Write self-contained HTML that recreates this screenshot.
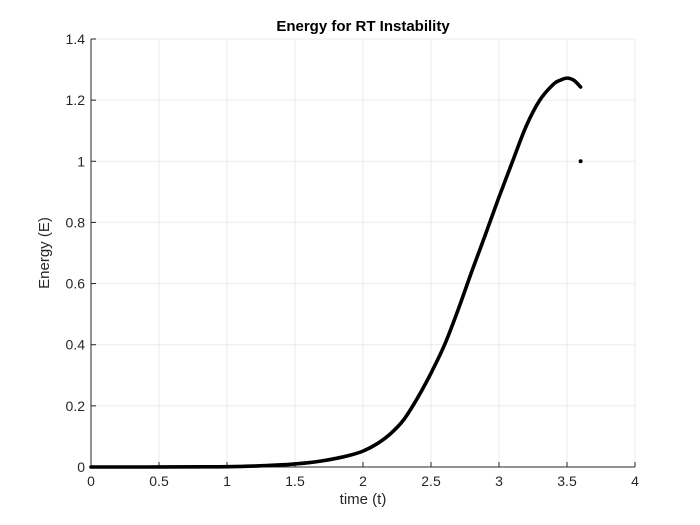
<!DOCTYPE html>
<html><head><meta charset="utf-8"><style>
body{margin:0;background:#fff;}
svg{display:block;font-family:"Liberation Sans",sans-serif;}
</style></head><body>
<svg id="chart" width="700" height="525">
<rect x="0" y="0" width="700" height="525" fill="#fff"/>
<rect x="91" y="39" width="544" height="428" fill="#fff" stroke="none"/>
<g id="grid"></g>
<g id="axes"></g>
<g id="series"></g>
<text x="363" y="31" text-anchor="middle" font-size="15" font-weight="bold" fill="#000">Energy for RT Instability</text>
<text x="363" y="504" text-anchor="middle" font-size="15" fill="#262626">time (t)</text>
<text x="0" y="0" transform="translate(49,253) rotate(-90)" text-anchor="middle" font-size="15" fill="#262626">Energy (E)</text>
</svg>
<script>
const xTicks=[0,0.5,1,1.5,2,2.5,3,3.5,4];
const xTickLabels=["0","0.5","1","1.5","2","2.5","3","3.5","4"];
const yTicks=[0,0.2,0.4,0.6,0.8,1,1.2,1.4];
const yTickLabels=["0","0.2","0.4","0.6","0.8","1","1.2","1.4"];
const times=[0,0.4,0.8,1.0,1.2,1.4,1.5,1.6,1.7,1.8,1.9,2.0,2.1,2.2,2.3,2.4,2.5,2.6,2.7,2.8,2.9,3.0,3.1,3.2,3.3,3.4,3.45,3.5,3.55,3.6];
const energy=[0,0,0.0005,0.001,0.003,0.007,0.01,0.014,0.02,0.028,0.038,0.052,0.075,0.108,0.155,0.225,0.307,0.40,0.515,0.64,0.76,0.883,1.0,1.115,1.2,1.252,1.265,1.272,1.265,1.243];
const outlierT=[3.6];
const outlierE=[1.0];
const X0=91,X1=635,Y0=467,Y1=39;
const sx=v=>X0+(v-0)/(4-0)*(X1-X0);
const sy=v=>Y0-(v-0)/(1.4-0)*(Y0-Y1);
const NS="http://www.w3.org/2000/svg";
function mk(t,a,p){const e=document.createElementNS(NS,t);for(const k in a)e.setAttribute(k,a[k]);p.appendChild(e);return e;}
const grid=document.getElementById('grid'),axes=document.getElementById('axes'),series=document.getElementById('series');
xTicks.forEach((v,i)=>{
 const g=mk('line',{x1:sx(v),x2:sx(v),y1:Y0,y2:Y1,stroke:'#ebebeb','stroke-width':1},grid);
 
 
 const t=mk('line',{x1:sx(v),x2:sx(v),y1:Y0,y2:Y0-5,stroke:'#262626'},axes);
 
 
 const tt=mk('text',{x:sx(v),y:Y0+19,'text-anchor':'middle','font-size':14,fill:'#262626'},axes);
 tt.textContent=xTickLabels[i];
 
 
});
yTicks.forEach((v,i)=>{
 const g=mk('line',{x1:X0,x2:X1,y1:sy(v),y2:sy(v),stroke:'#ebebeb','stroke-width':1},grid);
 
 
 const t=mk('line',{x1:X0,x2:X0+5,y1:sy(v),y2:sy(v),stroke:'#262626'},axes);
 
 
 const tt=mk('text',{x:X0-6,y:sy(v)+5,'text-anchor':'end','font-size':14,fill:'#262626'},axes);
 tt.textContent=yTickLabels[i];
 
 
});
const xa=mk('line',{x1:X0,x2:X1,y1:Y0,y2:Y0,stroke:'#262626'},axes);


const ya=mk('line',{x1:X0,x2:X0,y1:Y0,y2:Y1,stroke:'#262626'},axes);


const P=times.map((t,i)=>[sx(t),sy(energy[i])]);
let d='M'+P[0][0]+','+P[0][1];
for(let i=0;i<P.length-1;i++){
 const p0=P[Math.max(i-1,0)],p1=P[i],p2=P[i+1],p3=P[Math.min(i+2,P.length-1)];
 const c1x=p1[0]+(p2[0]-p0[0])/6,c1y=p1[1]+(p2[1]-p0[1])/6;
 const c2x=p2[0]-(p3[0]-p1[0])/6,c2y=p2[1]-(p3[1]-p1[1])/6;
 d+=' C'+c1x+','+c1y+' '+c2x+','+c2y+' '+p2[0]+','+p2[1];
}
const pl=mk('path',{d:d,fill:'none',stroke:'#000','stroke-width':3.6,'stroke-linejoin':'round','stroke-linecap':'round'},series);


outlierT.forEach((t,i)=>{
 const c=mk('circle',{cx:sx(t),cy:sy(outlierE[i]),r:2,fill:'#000'},series);
 
 
});
</script>
</body></html>
